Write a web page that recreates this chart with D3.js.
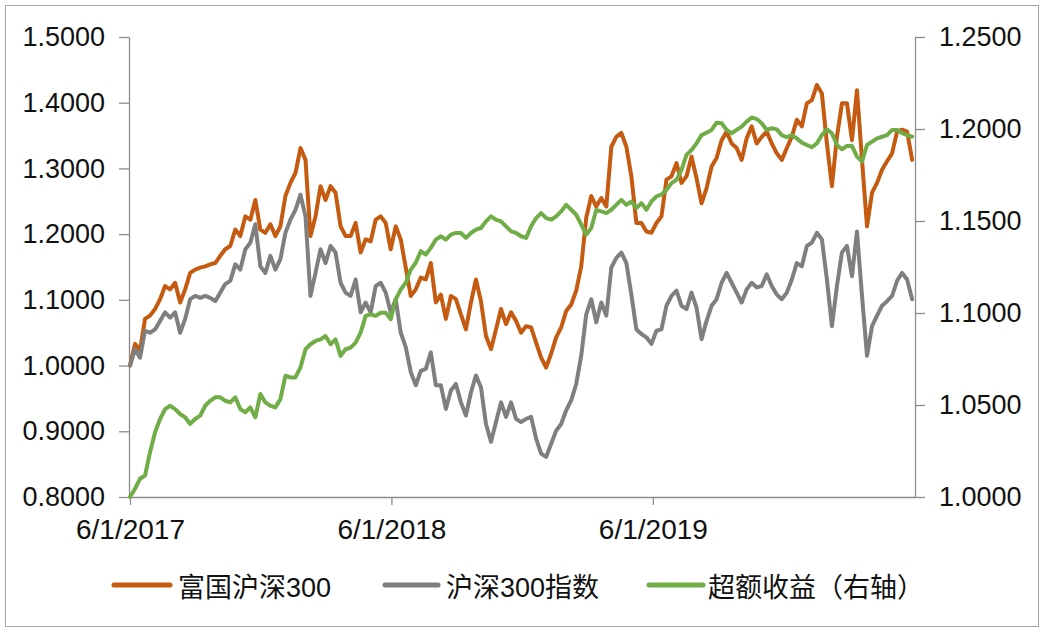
<!DOCTYPE html>
<html><head><meta charset="utf-8">
<script src="https://cdn.jsdelivr.net/npm/d3@7"></script>
<style>
html,body{margin:0;padding:0;background:#fff;}
text{font-family:"Liberation Sans",Arial,"Noto Sans CJK SC",sans-serif;fill:#111;}
</style></head>
<body>
<svg id="c" width="1048" height="636"></svg>
<script>
// series names
const seriesNames = ["富国沪深300", "沪深300指数", "超额收益（右轴）"];
// weekly observations starting 6/1/2017
const startDate = "2017-06-01";
const fundValues = [
1.000,1.033,1.023,1.071,1.076,1.086,1.101,1.121,1.116,1.126,
1.096,1.116,1.141,1.146,1.149,1.151,1.154,1.156,1.167,1.177,
1.182,1.207,1.197,1.227,1.222,1.252,1.207,1.202,1.215,1.197,
1.212,1.258,1.278,1.293,1.331,1.313,1.197,1.227,1.273,1.252,
1.273,1.263,1.212,1.197,1.197,1.217,1.172,1.192,1.189,1.222,
1.227,1.217,1.177,1.212,1.192,1.149,1.106,1.116,1.134,1.131,
1.156,1.096,1.108,1.071,1.106,1.101,1.078,1.055,1.096,1.131,
1.098,1.045,1.025,1.055,1.086,1.063,1.081,1.068,1.050,1.060,
1.058,1.035,1.012,0.997,1.018,1.043,1.058,1.083,1.093,1.114,
1.151,1.225,1.258,1.242,1.255,1.242,1.333,1.348,1.354,1.333,
1.288,1.217,1.217,1.204,1.202,1.217,1.227,1.283,1.288,1.308,
1.278,1.288,1.318,1.285,1.247,1.270,1.303,1.316,1.343,1.356,
1.338,1.331,1.313,1.346,1.364,1.338,1.348,1.356,1.338,1.323,
1.313,1.331,1.348,1.374,1.364,1.399,1.404,1.427,1.414,1.338,
1.273,1.348,1.399,1.399,1.343,1.419,1.313,1.212,1.263,1.278,
1.298,1.311,1.323,1.356,1.359,1.356,1.313];
const indexValues = [
1.000,1.025,1.012,1.053,1.050,1.055,1.068,1.081,1.073,1.081,
1.050,1.071,1.101,1.106,1.103,1.106,1.103,1.098,1.111,1.124,
1.129,1.154,1.146,1.177,1.187,1.215,1.151,1.141,1.167,1.146,
1.162,1.202,1.222,1.237,1.260,1.227,1.106,1.141,1.177,1.156,
1.182,1.172,1.126,1.111,1.106,1.131,1.081,1.096,1.081,1.121,
1.126,1.111,1.081,1.101,1.050,1.028,0.990,0.970,0.992,0.995,
1.020,0.970,0.970,0.934,0.962,0.972,0.944,0.924,0.959,0.985,
0.967,0.911,0.884,0.914,0.944,0.922,0.944,0.919,0.914,0.919,
0.922,0.889,0.866,0.861,0.881,0.901,0.911,0.932,0.947,0.972,
1.015,1.078,1.101,1.066,1.096,1.076,1.149,1.164,1.172,1.156,
1.108,1.055,1.048,1.043,1.033,1.053,1.055,1.091,1.106,1.114,
1.091,1.086,1.111,1.088,1.040,1.068,1.091,1.101,1.126,1.141,
1.126,1.111,1.096,1.116,1.126,1.119,1.121,1.139,1.121,1.108,
1.101,1.111,1.131,1.156,1.151,1.182,1.187,1.202,1.192,1.131,
1.060,1.121,1.172,1.182,1.136,1.204,1.106,1.015,1.060,1.076,
1.091,1.098,1.106,1.129,1.141,1.131,1.101];
const excessValues = [
1.0000,1.0045,1.0099,1.0117,1.0244,1.0352,1.0424,1.0478,1.0496,1.0478,
1.0451,1.0433,1.0397,1.0424,1.0442,1.0496,1.0523,1.0542,1.0542,1.0523,
1.0514,1.0542,1.0478,1.0460,1.0487,1.0433,1.0560,1.0514,1.0496,1.0487,
1.0532,1.0659,1.0650,1.0650,1.0704,1.0803,1.0830,1.0848,1.0857,1.0875,
1.0830,1.0857,1.0767,1.0803,1.0812,1.0839,1.0893,1.0984,1.0993,1.0984,
1.1002,1.1002,1.0966,1.1074,1.1128,1.1164,1.1236,1.1273,1.1336,1.1318,
1.1354,1.1399,1.1417,1.1399,1.1426,1.1435,1.1435,1.1408,1.1435,1.1453,
1.1462,1.1498,1.1525,1.1507,1.1498,1.1471,1.1444,1.1435,1.1417,1.1408,
1.1471,1.1516,1.1543,1.1516,1.1507,1.1525,1.1552,1.1588,1.1561,1.1534,
1.1480,1.1426,1.1462,1.1561,1.1552,1.1543,1.1561,1.1588,1.1615,1.1588,
1.1606,1.1570,1.1597,1.1561,1.1606,1.1634,1.1643,1.1670,1.1706,1.1724,
1.1778,1.1859,1.1886,1.1922,1.1967,1.1980,1.1995,1.2034,1.2031,1.1995,
1.1977,1.1995,1.2013,1.2040,1.2063,1.2054,1.2031,1.1995,1.2004,1.1998,
1.1967,1.1955,1.1967,1.1949,1.1926,1.1913,1.1901,1.1922,1.1967,1.1998,
1.1977,1.1913,1.1890,1.1908,1.1908,1.1850,1.1823,1.1913,1.1931,1.1949,
1.1958,1.1967,1.1995,1.1995,1.1977,1.1967,1.1958];
const xTickLabels = ["6/1/2017", "6/1/2018", "6/1/2019"];
const leftTicks = [0.8, 0.9, 1.0, 1.1, 1.2, 1.3, 1.4, 1.5];
const rightTicks = [1.0, 1.05, 1.1, 1.15, 1.2, 1.25];
const colors = ["#C55A11", "#7F7F7F", "#70AD47"];

const parse = d3.timeParse("%Y-%m-%d");
const t0 = parse(startDate);
const dates = fundValues.map((_, i) => d3.timeDay.offset(t0, 7 * i));
const tickDates = xTickLabels.map(d3.timeParse("%m/%d/%Y"));

const svg = d3.select("#c");
const axisColor = "#8c8c8c";

// outer frame
svg.append("rect").attr("x", 5.5).attr("y", 5.5).attr("width", 1033).attr("height", 621)
  .attr("fill", "#fff").attr("stroke", "#a6a6a6").attr("stroke-width", 1);

const x = d3.scaleTime().domain([parse("2017-06-01"), parse("2020-06-01")]).range([130, 915]);
const yL = d3.scaleLinear().domain([0.8, 1.5]).range([497, 37]);
const yR = d3.scaleLinear().domain([1.0, 1.25]).range([497, 37]);

function styleAxis(g, fs) {
  g.select(".domain").attr("stroke", axisColor).attr("stroke-width", 1.3);
  g.selectAll(".tick line").attr("stroke", axisColor).attr("stroke-width", 1.3);
  g.selectAll(".tick text").attr("fill", "#111").style("font-size", fs + "px")
    .style("font-family", '"Liberation Sans", Arial, sans-serif');
}

// left axis
const gL = svg.append("g").attr("transform", "translate(129,0)")
  .call(d3.axisLeft(yL).tickValues(leftTicks).tickFormat(d3.format(".4f")).tickSize(10).tickPadding(14).tickSizeOuter(0));
styleAxis(gL, 27);
// right axis
const gR = svg.append("g").attr("transform", "translate(915,0)")
  .call(d3.axisRight(yR).tickValues(rightTicks).tickFormat(d3.format(".4f")).tickSize(10).tickPadding(14).tickSizeOuter(0));
styleAxis(gR, 27);
// bottom axis
const gB = svg.append("g").attr("transform", "translate(0,497)")
  .call(d3.axisBottom(x).tickValues(tickDates).tickFormat((d, i) => xTickLabels[i]).tickSize(8).tickPadding(14).tickSizeOuter(0));
styleAxis(gB, 28);
gB.select(".domain").attr("d", "M129,0.5H915");

// lines
const lineL = d3.line().x((d, i) => x(dates[i])).y(d => yL(d)).curve(d3.curveLinear);
const lineR = d3.line().x((d, i) => x(dates[i])).y(d => yR(d)).curve(d3.curveLinear);
const plot = svg.append("g");
plot.append("path").datum(fundValues).attr("d", lineL).attr("fill", "none")
  .attr("stroke", colors[0]).attr("stroke-width", 4).attr("stroke-linejoin", "round").attr("stroke-linecap", "round");
plot.append("path").datum(indexValues).attr("d", lineL).attr("fill", "none")
  .attr("stroke", colors[1]).attr("stroke-width", 4).attr("stroke-linejoin", "round").attr("stroke-linecap", "round");
plot.append("path").datum(excessValues).attr("d", lineR).attr("fill", "none")
  .attr("stroke", colors[2]).attr("stroke-width", 4).attr("stroke-linejoin", "round").attr("stroke-linecap", "round");

// legend
const legendItems = [
  {x1: 114, x2: 170, tx: 178},
  {x1: 385, x2: 438, tx: 446},
  {x1: 649, x2: 703, tx: 708}
];
const lg = svg.append("g");
legendItems.forEach((it, i) => {
  lg.append("line").attr("x1", it.x1).attr("x2", it.x2).attr("y1", 585).attr("y2", 585)
    .attr("stroke", colors[i]).attr("stroke-width", 5).attr("stroke-linecap", "round");
  lg.append("text").attr("x", it.tx).attr("y", 597).style("font-size", "27px")
    .style("font-family", '"Liberation Sans", Arial, "Noto Sans CJK SC", sans-serif')
    .text(seriesNames[i]);
});
</script>
</body></html>
